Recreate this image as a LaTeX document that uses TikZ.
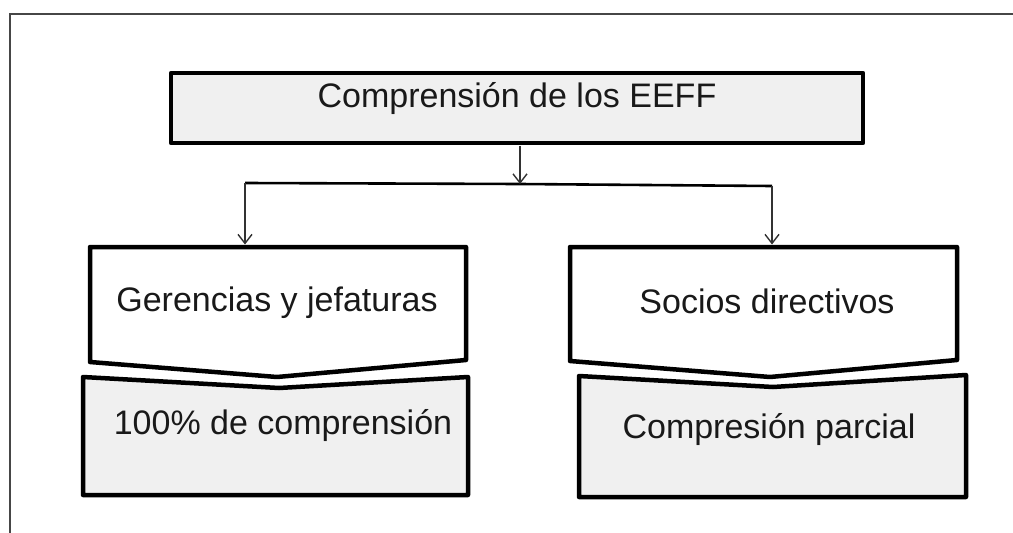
\documentclass[tikz,border=0pt]{standalone}
\usepackage{fontspec}
\setmainfont{Liberation Sans}
\usetikzlibrary{arrows.meta}
\definecolor{boxgray}{RGB}{240,240,240}
\definecolor{framegray}{RGB}{70,70,70}
\definecolor{arrowgray}{RGB}{50,50,50}
\tikzset{
  boxline/.style={draw=black, line width=4.5pt, line join=round},
  grayfill/.style={boxline, fill=boxgray},
  whitefill/.style={boxline, fill=white},
  lbl/.style={anchor=base, inner sep=0pt, font=\fontsize{34}{40}\selectfont, text=black!90},
  conn/.style={draw=arrowgray, line width=1.6pt, -{Straight Barb[length=9pt,width=14pt,line width=1.4pt]}},
  busline/.style={draw=black, line width=2.6pt}
}
\begin{document}
\begin{tikzpicture}[x=1pt,y=-1pt]
\useasboundingbox (0,0) rectangle (1013,533);
% outer frame (top and left sides)
\draw[framegray, line width=1.6pt] (10,533) -- (10,14) -- (1013,14);

% top box
\node[grayfill, rectangle, minimum width=692pt, minimum height=70pt, inner sep=0pt] (top) at (517,108) {};
\node[lbl] (toplbl) at (517,107) {Comprensión de los EEFF};

% left chevron and lower box
\path[whitefill] (90,247) -- (466,247) -- (466,360) -- (277,377) -- (90,362) -- cycle;
\path[grayfill] (83,377) -- (279,388) -- (468,377) -- (468,495) -- (83,495) -- cycle;
\node[lbl] (ger) at (277,311) {Gerencias y jefaturas};
\node[lbl] (cien) at (283,434) {100\% de comprensión};

% right chevron and lower box
\path[whitefill] (570,247) -- (957,247) -- (957,360) -- (770,377) -- (570,361) -- cycle;
\path[grayfill] (579,376) -- (773,387) -- (966,375) -- (966,497) -- (579,497) -- cycle;
\node[lbl] (soc) at (767,313) {Socios directivos};
\node[lbl] (par) at (769,438) {Compresión parcial};

% connectors
\coordinate (topout) at (520,145.5);
\coordinate (split) at (520,184);
\coordinate (busL) at (245,183);
\coordinate (busR) at (772,186);
\coordinate (gerin) at (245,244.5);
\coordinate (socin) at (772,244.5);
\draw[busline] (busL) -- (split) -- (busR);
\draw[conn] (topout) -- (split);
\draw[conn] (busL) -- (gerin);
\draw[conn] (busR) -- (socin);
\end{tikzpicture}
\end{document}
